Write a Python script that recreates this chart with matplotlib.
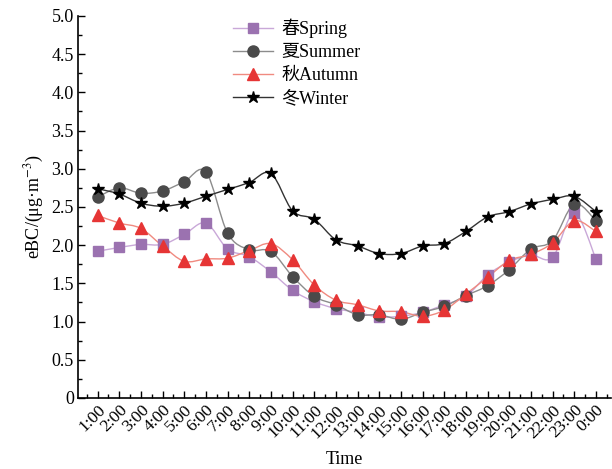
import numpy as np
import matplotlib.pyplot as plt
from matplotlib.path import Path
from matplotlib.patches import PathPatch

plt.rcParams['font.family'] = ['Liberation Serif', 'Noto Sans CJK SC']
plt.rcParams['mathtext.fontset'] = 'stix'

hours = ["1:00", "2:00", "3:00", "4:00", "5:00", "6:00", "7:00", "8:00",
         "9:00", "10:00", "11:00", "12:00", "13:00", "14:00", "15:00", "16:00",
         "17:00", "18:00", "19:00", "20:00", "21:00", "22:00", "23:00", "0:00"]

spring = [1.92, 1.97, 2.01, 2.01, 2.14, 2.29, 1.95, 1.85, 1.65, 1.41, 1.26, 1.17,
          1.12, 1.06, 1.07, 1.12, 1.22, 1.33, 1.61, 1.78, 1.87, 1.84, 2.42, 1.82]
summer = [2.63, 2.75, 2.68, 2.71, 2.83, 2.96, 2.16, 1.94, 1.92, 1.59, 1.33, 1.22,
          1.09, 1.09, 1.03, 1.12, 1.20, 1.34, 1.47, 1.68, 1.95, 2.06, 2.54, 2.32]
autumn = [2.39, 2.29, 2.22, 1.99, 1.79, 1.82, 1.83, 1.93, 2.02, 1.81, 1.48, 1.28,
          1.22, 1.14, 1.13, 1.07, 1.15, 1.36, 1.58, 1.80, 1.88, 2.03, 2.32, 2.18]
winter = [2.74, 2.67, 2.55, 2.51, 2.55, 2.64, 2.73, 2.82, 2.94, 2.45, 2.34, 2.07,
          1.99, 1.89, 1.89, 1.99, 2.02, 2.18, 2.37, 2.44, 2.54, 2.60, 2.64, 2.44]


def smooth_path(x, y):
    # catmull-rom through the points, drawn as bezier segments
    pts = np.column_stack([x, y])
    p = np.vstack([pts[0], pts, pts[-1]])
    verts = [pts[0]]
    codes = [Path.MOVETO]
    for i in range(1, len(p) - 2):
        c1 = p[i] + (p[i + 1] - p[i - 1]) / 6
        c2 = p[i + 1] - (p[i + 2] - p[i]) / 6
        verts += [c1, c2, p[i + 1]]
        codes += [Path.CURVE4] * 3
    return Path(verts, codes)


x = np.arange(1, len(hours) + 1)

fig = plt.figure(figsize=(6.12, 4.69), dpi=100)
ax = fig.add_axes([0.1275, 0.1514, 0.8710, 0.8145])

series = [
    ("春Spring", spring, "s", "#9b72b0", "#c9a8d8", 7),
    ("夏Summer", summer, "o", "#4a4a4a", "#8c8c8c", 8),
    ("秋Autumn", autumn, "^", "#e63535", "#f08a80", 8.5),
    ("冬Winter", winter, "*", "black", "#333333", 9),
]
for label, vals, mk, mc, lc, ms in series:
    ax.add_patch(PathPatch(smooth_path(x, vals), facecolor='none',
                           edgecolor=lc, lw=1.0, zorder=2))
    ax.plot(x, vals, linestyle='none', marker=mk, ms=ms, color=mc,
            markeredgecolor=mc, zorder=3)
    ax.plot([], [], '-', color=lc, lw=1.0, marker=mk, ms=ms,
            markerfacecolor=mc, markeredgecolor=mc, label=label)

ax.set_xlim(0.1, 24.7)
ax.set_ylim(0, 5.0)
ax.set_xticks(x)
ax.set_xticks(np.arange(0.5, 25, 1), minor=True)
ax.set_xticklabels(hours, rotation=45, ha='right', rotation_mode='anchor',
                   fontsize=12.5)
yt = np.arange(0, 5.01, 0.5)
ax.set_yticks(yt)
ax.set_yticklabels(["0"] + ["%.1f" % v for v in yt[1:]], fontsize=13)
ax.set_yticks(np.arange(0.25, 5, 0.5), minor=True)
ax.tick_params(which='both', direction='in', width=1, pad=3)
ax.tick_params(which='major', length=5)
ax.tick_params(which='minor', length=3)
for s in ['top', 'right']:
    ax.spines[s].set_visible(False)
ax.spines['left'].set_linewidth(1.2)
ax.spines['bottom'].set_linewidth(1.2)

ax.set_xlabel("Time", fontsize=13, labelpad=7)
ax.set_ylabel(r"eBC/(μg·m$^{-3}$)", fontsize=13)

ax.legend(loc='upper left', bbox_to_anchor=(0.26, 1.035), frameon=False,
          fontsize=13, handlelength=2.2, labelspacing=0.33, handletextpad=0.5)

fig.savefig("out.png", dpi=100)
